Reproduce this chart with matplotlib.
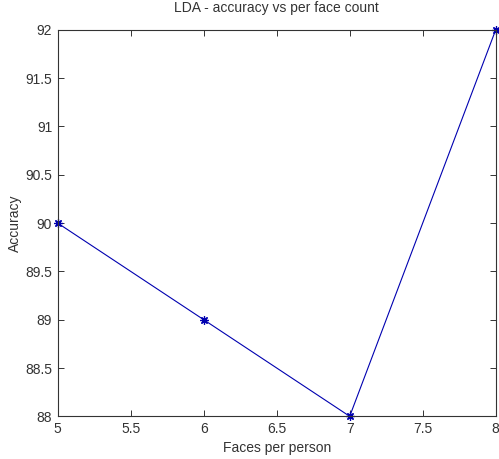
import matplotlib
matplotlib.use("Agg")
import matplotlib.pyplot as plt

faces = [5, 6, 7, 8]
accuracy = [90, 89, 88, 92]
xticks = [5, 5.5, 6, 6.5, 7, 7.5, 8]
yticks = [88, 88.5, 89, 89.5, 90, 90.5, 91, 91.5, 92]

plt.rcParams["font.family"] = ["Liberation Sans", "DejaVu Sans"]

fig = plt.figure(figsize=(4.99, 4.59), dpi=100)
ax = fig.add_axes([0.1156, 0.093, 0.8778, 0.842])
# MATLAB-style asterisk marker
ax.plot(faces, accuracy, color="#0000b0", linewidth=0.8, marker=(8, 2, 0), markersize=6,
        markeredgewidth=0.9, clip_on=False)
ax.set_xlim(5, 8)
ax.set_ylim(88, 92)
ax.set_xticks(xticks)
ax.set_xticklabels([f"{t:g}" for t in xticks])
ax.set_yticks(yticks)
ax.set_yticklabels([f"{t:g}" for t in yticks])
ax.tick_params(direction="in", top=True, right=True, length=4, width=0.7,
               labelsize=10, labelcolor="#333333", color="#333333", pad=4)
for s in ax.spines.values():
    s.set_linewidth(0.8)
    s.set_color("#333333")
ax.set_xlabel("Faces per person", fontsize=10, color="#333333", labelpad=4)
ax.set_ylabel("Accuracy", fontsize=10, color="#333333", labelpad=2)
ax.set_title("LDA - accuracy vs per face count", fontsize=10, color="#333333", pad=13)
fig.savefig("out.png", dpi=100)
